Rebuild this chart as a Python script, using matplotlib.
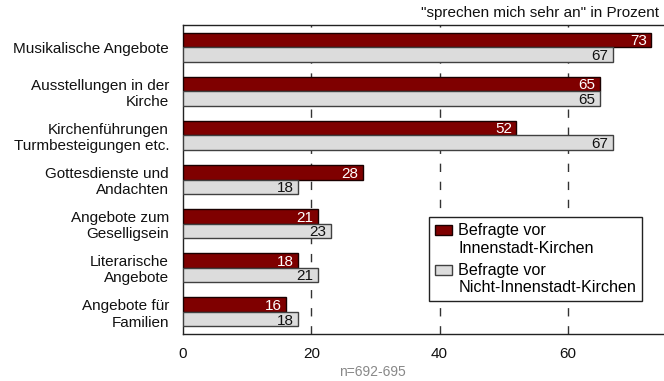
import matplotlib
matplotlib.use("Agg")
import matplotlib.pyplot as plt
import numpy as np
from matplotlib.patches import Rectangle
from matplotlib.legend_handler import HandlerPatch

plt.rcParams['font.family'] = ['Liberation Sans', 'DejaVu Sans']

categories = [
    "Musikalische Angebote",
    "Ausstellungen in der\nKirche",
    "Kirchenführungen\nTurmbesteigungen etc.",
    "Gottesdienste und\nAndachten",
    "Angebote zum\nGeselligsein",
    "Literarische\nAngebote",
    "Angebote für\nFamilien",
]
innenstadt = [73, 65, 52, 28, 21, 18, 16]
nicht_innenstadt = [67, 65, 67, 18, 23, 21, 18]
series_labels = ["Befragte vor\nInnenstadt-Kirchen", "Befragte vor\nNicht-Innenstadt-Kirchen"]
x_ticks = [0, 20, 40, 60]

dark = "#7f0000"
light = "#dcdcdc"
dark_edge = "#1a0000"
light_edge = "#404040"
fs = 11

fig = plt.figure(figsize=(6.64, 3.81), dpi=100)
ax = fig.add_axes([183 / 664, 1 - 334 / 381, 1 - 183 / 664, (334 - 25) / 381])

y = np.arange(len(categories))
h = 0.33
ax.barh(y - h / 2, innenstadt, height=h, color=dark, edgecolor=dark_edge, lw=1, zorder=3)
ax.barh(y + h / 2, nicht_innenstadt, height=h, color=light, edgecolor=light_edge, lw=1, zorder=3)

for v, yy in zip(innenstadt, y - h / 2):
    ax.annotate(str(v), (v, yy), xytext=(-3, -1), textcoords="offset points",
                ha="right", va="center", color="white", fontsize=fs, zorder=4)
for v, yy in zip(nicht_innenstadt, y + h / 2):
    ax.annotate(str(v), (v, yy), xytext=(-3, -1), textcoords="offset points",
                ha="right", va="center", color="#111111", fontsize=fs, zorder=4)

for xv in x_ticks[1:]:
    ax.axvline(xv, color="#333333", lw=1, ls=(0, (6, 7)), zorder=1)

ax.set_xlim(0, 75)
ax.set_ylim(len(categories) - 0.5, -0.5)
ax.set_yticks(y)
ax.set_yticklabels(categories, fontsize=fs, color="#111111")
ax.set_xticks(x_ticks)
ax.set_xticklabels([str(t) for t in x_ticks], fontsize=fs, color="#111111")
ax.tick_params(axis="y", length=0, pad=10)
ax.tick_params(axis="x", length=0, pad=9)
ax.spines["right"].set_visible(False)
for s in ["top", "bottom", "left"]:
    ax.spines[s].set_color("#222222")
    ax.spines[s].set_linewidth(1)


def raised_patch(legend, orig_handle, xdescent, ydescent, width, height, fontsize):
    shift = fontsize * 0.6
    return Rectangle((-xdescent, -ydescent + shift), width, height)


handles = [Rectangle((0, 0), 1, 1, facecolor=dark, edgecolor=dark_edge, lw=1),
           Rectangle((0, 0), 1, 1, facecolor=light, edgecolor=light_edge, lw=1)]
raised = HandlerPatch(patch_func=raised_patch)
leg = ax.legend(handles, series_labels, loc="upper left",
                bbox_to_anchor=(0.511, 0.378), fontsize=11.6, frameon=True,
                fancybox=False, edgecolor="#222222", framealpha=1,
                handlelength=1.05, handleheight=0.58, handletextpad=0.4,
                labelspacing=0.45, borderpad=0.38, borderaxespad=0,
                handler_map={Rectangle: raised})
leg.get_frame().set_linewidth(1)
leg.set_zorder(5)

fig.text(659 / 664, 1 - 13 / 381, "\"sprechen mich sehr an\" in Prozent",
         ha="right", va="center", fontsize=fs, color="#111111")
fig.text(372 / 664, 1 - 372 / 381, "n=692-695", ha="center", va="center",
         fontsize=10, color="#888888")

fig.savefig("out.png", dpi=100)
